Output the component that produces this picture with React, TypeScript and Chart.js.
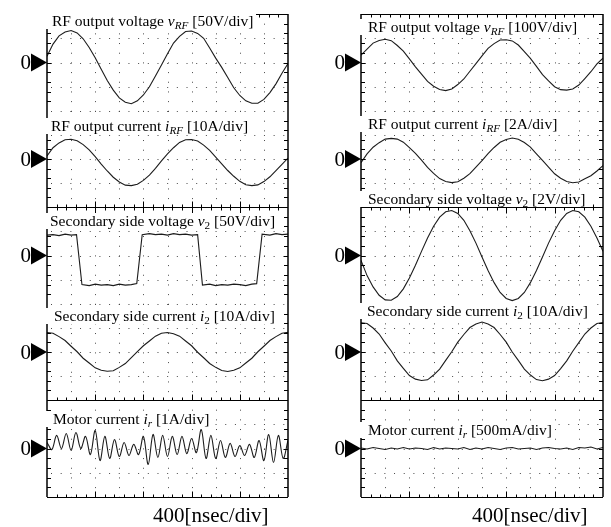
import React, { useEffect, useRef } from "react";
import { Chart, registerables } from "chart.js";

Chart.register(...registerables);

// ---------- data (time axis in ns, 400 ns/div, 10 div) ----------
const TIME_NS = [0,100,200,300,400,500,600,700,800,900,1000,1100,1200,1300,1400,1500,1600,1700,1800,1900,2000,2100,2200,2300,2400,2500,2600,2700,2800,2900,3000,3100,3200,3300,3400,3500,3600,3700,3800,3900,4000];
const TIME_IR_NS = [0,80,160,240,320,400,480,560,640,720,800,880,960,1040,1120,1200,1280,1360,1440,1520,1600,1680,1760,1840,1920,2000,2080,2160,2240,2320,2400,2480,2560,2640,2720,2800,2880,2960,3040,3120,3200,3280,3360,3440,3520,3600,3680,3760,3840,3920,4000];
const TIME_V2_LEFT_NS = [0,100,200,300,400,490,580,700,800,900,1000,1100,1200,1300,1400,1490,1580,1700,1800,1900,2000,2100,2200,2300,2400,2500,2580,2700,2800,2900,3000,3100,3200,3300,3400,3480,3570,3700,3800,3900,4000];

// left column (V / A)
const V_RF_LEFT = [13,38,55,63,66,61,49,31,10,-14,-37,-57,-73,-82,-85,-79,-67,-50,-28,-5,18,40,54,64,65,60,50,30,9,-10,-31,-52,-68,-79,-84,-84,-76,-62,-44,-22,-2];
const I_RF_LEFT = [1.3,4.7,6.7,8.0,8.2,7.6,6.0,3.8,1.0,-2.1,-5.0,-7.6,-9.6,-10.9,-11.1,-10.5,-8.9,-6.7,-3.9,-0.8,2.1,4.7,6.9,8.0,8.1,7.5,5.8,3.6,0.8,-2.0,-4.8,-7.2,-9.3,-10.7,-11.1,-10.8,-9.4,-7.4,-4.8,-2.2,0.4];
const V2_LEFT = [42,43,41,44,42,43,-60,-62,-59,-61,-60,-62,-59,-61,-60,-58,43,45,43,44,42,45,43,44,42,43,-61,-59,-62,-60,-61,-59,-60,-62,-59,-58,44,42,45,43,44];
const I2_LEFT = [8.1,7.8,6.4,4.8,2.4,0.1,-2.6,-4.6,-6.6,-7.6,-8.0,-7.8,-6.4,-4.8,-2.3,0.2,2.6,4.6,6.6,7.8,8.1,7.6,6.6,4.6,2.6,-0.1,-2.4,-4.8,-6.4,-7.7,-8.1,-7.6,-6.6,-4.6,-2.6,0.1,2.4,4.8,6.4,7.8,8.2];
const IR_LEFT = [0.25,-0.04,0.54,0.0,0.62,-0.08,0.66,0.0,0.50,-0.25,0.74,-0.50,0.50,-0.41,0.37,-0.33,0.25,-0.29,0.17,-0.25,0.50,-0.66,0.58,-0.37,0.54,-0.33,0.50,-0.25,0.50,-0.21,0.41,-0.17,0.78,-0.41,0.54,-0.41,0.33,-0.37,0.21,-0.33,0.12,-0.29,0.17,-0.37,0.33,-0.50,0.58,-0.58,0.54,-0.41,0.33];

// right column (V / A)
const V_RF_RIGHT = [30,55,80,91,96,90,70,47,15,-18,-48,-78,-98,-111,-116,-109,-91,-68,-36,-5,27,58,78,93,94,89,72,45,17,-16,-50,-76,-100,-112,-114,-109,-93,-66,-38,-6,18];
const I_RF_RIGHT = [-0.30,0.42,0.98,1.36,1.66,1.72,1.66,1.40,0.95,0.47,-0.10,-0.70,-1.20,-1.63,-1.88,-1.97,-1.90,-1.60,-1.22,-0.68,-0.14,0.44,0.96,1.39,1.63,1.75,1.64,1.37,0.99,0.43,-0.11,-0.67,-1.23,-1.60,-1.88,-1.98,-1.91,-1.64,-1.40,-1.00,-0.55];
const V2_RIGHT = [-0.40,-1.66,-2.59,-3.28,-3.66,-3.69,-3.38,-2.75,-1.86,-0.80,0.34,1.45,2.42,3.16,3.61,3.71,3.47,2.90,2.05,1.02,-0.12,-1.24,-2.24,-3.05,-3.54,-3.72,-3.54,-3.05,-2.24,-1.24,-0.12,1.02,2.05,2.90,3.47,3.71,3.61,3.16,2.42,1.45,0.34];
const I2_RIGHT = [12.2,11.9,10.0,7.5,3.8,0.4,-3.7,-6.8,-9.8,-11.3,-11.9,-11.6,-9.6,-7.1,-3.5,0.1,4.1,7.3,10.2,11.7,12.5,11.7,10.2,7.3,4.1,0.0,-3.5,-7.1,-9.6,-11.5,-12.0,-11.3,-9.8,-6.9,-3.7,0.3,3.9,7.5,10.0,11.9,12.3];
const IR_RIGHT = [0.01,-0.01,0.02,0,-0.02,0.01,-0.01,0.02,-0.01,0.01,0,-0.02,0.02,-0.01,0.01,0,-0.01,0.02,-0.02,0.01,-0.01,0.02,0,-0.02,0.01,0.02,-0.01,0,0.01,-0.02,0.01,0.02,0,-0.01,0.01,-0.02,0.02,0.01,0.03,-0.01,0.02];

// vertical sensitivity (unit per div)
const UNITS_LEFT = [50, 10, 50, 10, 1];
const UNITS_RIGHT = [100, 2, 2, 10, 0.5];
const TIME_PER_DIV = 400;
const X_LABEL = "400[nsec/div]";

const SERIF = '"Liberation Serif", "Times New Roman", Times, serif';

// ---------- layout ----------
const ROW_TOPS = [14, 111, 207, 304, 400, 497];
const COLS = [
  { canvasLeft: 0, plotLeft: 47, plotRight: 288 },
  { canvasLeft: 305, plotLeft: 361, plotRight: 603 },
];
const CANVAS_W = 306;
const PAD_V = 9;

type RowKind = "none" | "down" | "up" | "cross";

const scopePlugin = {
  id: "scope",
  beforeDatasetsDraw(chart: any, _args: any, opts: any) {
    const { ctx, chartArea: a, scales } = chart;
    const xs = scales.x;
    const ys = scales.y;
    const u = opts.unit;
    ctx.save();
    ctx.strokeStyle = "#4a4a4a";
    ctx.lineWidth = 1;
    ctx.setLineDash([1, 8.68]);
    for (let d = 1; d < 10; d++) {
      const x = Math.round(xs.getPixelForValue(d * TIME_PER_DIV)) + 0.5;
      ctx.beginPath();
      ctx.moveTo(x, a.top);
      ctx.lineTo(x, a.bottom);
      ctx.stroke();
    }
    const rows = [-1, 0, 1];
    if (opts.top === "none") rows.push(2);
    for (const d of rows) {
      const y = Math.round(ys.getPixelForValue(d * u)) + 0.5;
      ctx.beginPath();
      ctx.moveTo(a.left + 4, y);
      ctx.lineTo(a.right, y);
      ctx.stroke();
    }
    ctx.restore();
  },
  afterDatasetsDraw(chart: any, _args: any, opts: any) {
    const { ctx, chartArea: a, scales } = chart;
    const ys = scales.y;
    const y0 = ys.getPixelForValue(0);
    const h = a.bottom - a.top;
    ctx.save();
    ctx.setLineDash([]);
    ctx.strokeStyle = "#000";
    // side borders
    ctx.lineWidth = 1.5;
    ctx.beginPath();
    ctx.moveTo(a.left, a.top);
    ctx.lineTo(a.left, a.bottom);
    ctx.moveTo(a.right, a.top);
    ctx.lineTo(a.right, a.bottom);
    ctx.stroke();
    // edge ticks
    ctx.lineWidth = 1;
    ctx.beginPath();
    for (let n = -4; n <= 4; n++) {
      const y = Math.round(y0 + (n * h) / 10) + 0.5;
      ctx.moveTo(a.left, y);
      ctx.lineTo(a.left + 4, y);
      ctx.moveTo(a.right - 4, y);
      ctx.lineTo(a.right, y);
    }
    ctx.stroke();
    // tick rows
    const drawRow = (yy: number, kind: RowKind) => {
      if (kind === "none") return;
      const y = Math.round(yy) + 0.5;
      ctx.lineWidth = 1.2;
      ctx.beginPath();
      ctx.moveTo(a.left, y);
      ctx.lineTo(a.right, y);
      ctx.stroke();
      ctx.lineWidth = 1;
      ctx.beginPath();
      for (let i = 1; i < 25; i++) {
        const x = Math.round(a.left + (i * (a.right - a.left)) / 25) + 0.5;
        const len = i % 5 === 0 ? 6 : 3;
        const up = kind === "up" || kind === "cross" ? len : 0;
        const dn = kind === "down" || kind === "cross" ? len : 0;
        ctx.moveTo(x, y - up);
        ctx.lineTo(x, y + dn);
      }
      ctx.stroke();
    };
    drawRow(a.top, opts.top);
    drawRow(a.bottom, opts.bottom);
    // zero marker
    ctx.fillStyle = "#000";
    ctx.beginPath();
    ctx.moveTo(a.left, y0);
    ctx.lineTo(a.left - 16, y0 - 9);
    ctx.lineTo(a.left - 16, y0 + 9);
    ctx.closePath();
    ctx.fill();
    ctx.font = `21px ${SERIF}`;
    ctx.textAlign = "right";
    ctx.textBaseline = "middle";
    ctx.fillText("0", a.left - 16, y0 + 1);
    ctx.restore();
  },
};

type PanelCfg = {
  col: number;
  row: number;
  times: number[];
  values: number[];
  unit: number;
  top: RowKind;
  bottom: RowKind;
  smooth: number;
};

const TOP_KINDS: RowKind[] = ["down", "none", "cross", "none", "up"];
const BOTTOM_KINDS: RowKind[] = ["none", "none", "none", "none", "up"];

const LEFT_SERIES = [
  { times: TIME_NS, values: V_RF_LEFT, smooth: 0 },
  { times: TIME_NS, values: I_RF_LEFT, smooth: 0 },
  { times: TIME_V2_LEFT_NS, values: V2_LEFT, smooth: 0 },
  { times: TIME_NS, values: I2_LEFT, smooth: 0 },
  { times: TIME_IR_NS, values: IR_LEFT, smooth: 0.35 },
];
const RIGHT_SERIES = [
  { times: TIME_NS, values: V_RF_RIGHT, smooth: 0 },
  { times: TIME_NS, values: I_RF_RIGHT, smooth: 0 },
  { times: TIME_NS, values: V2_RIGHT, smooth: 0 },
  { times: TIME_NS, values: I2_RIGHT, smooth: 0 },
  { times: TIME_NS, values: IR_RIGHT, smooth: 0 },
];

const PANELS: PanelCfg[] = [
  ...LEFT_SERIES.map((s, i) => ({ col: 0, row: i, ...s, unit: UNITS_LEFT[i], top: TOP_KINDS[i], bottom: BOTTOM_KINDS[i] })),
  ...RIGHT_SERIES.map((s, i) => ({ col: 1, row: i, ...s, unit: UNITS_RIGHT[i], top: TOP_KINDS[i], bottom: BOTTOM_KINDS[i] })),
];

function Panel({ cfg }: { cfg: PanelCfg }) {
  const ref = useRef<HTMLCanvasElement | null>(null);
  const col = COLS[cfg.col];
  const top = ROW_TOPS[cfg.row];
  const h = ROW_TOPS[cfg.row + 1] - top;
  useEffect(() => {
    if (!ref.current) return;
    const chart = new Chart(ref.current, {
      type: "line",
      data: {
        datasets: [
          {
            data: cfg.times.map((t, i) => ({ x: t, y: cfg.values[i] })),
            borderColor: "#1c1c1c",
            borderWidth: 1.1,
            pointRadius: 0,
            tension: cfg.smooth,
            fill: false,
          },
        ],
      },
      options: {
        responsive: false,
        animation: false,
        events: [],
        layout: {
          padding: {
            left: col.plotLeft - col.canvasLeft,
            right: col.canvasLeft + CANVAS_W - col.plotRight,
            top: PAD_V,
            bottom: PAD_V,
          },
        },
        scales: {
          x: { type: "linear", min: 0, max: 10 * TIME_PER_DIV, display: false },
          y: { type: "linear", min: -2 * cfg.unit, max: 2 * cfg.unit, display: false },
        },
        plugins: {
          legend: { display: false },
          tooltip: { enabled: false },
          scope: { unit: cfg.unit, top: cfg.top, bottom: cfg.bottom },
        } as any,
      },
      plugins: [scopePlugin as any],
    });
    return () => chart.destroy();
  }, []);
  return (
    <canvas
      ref={ref}
      width={CANVAS_W}
      height={h + 2 * PAD_V}
      style={{ position: "absolute", left: col.canvasLeft, top: top - PAD_V, width: CANVAS_W, height: h + 2 * PAD_V }}
    />
  );
}

const subStyle: React.CSSProperties = { fontSize: "0.72em", verticalAlign: "-0.25em", lineHeight: 0 };

const LABELS: { col: number; x: number; cy: number; node: React.ReactNode }[] = [
  { col: 0, x: 52, cy: 21, node: <>RF output voltage <i>v</i><sub style={subStyle}><i>RF</i></sub> [50V/div]</> },
  { col: 0, x: 51, cy: 126, node: <>RF output current <i>i</i><sub style={subStyle}><i>RF</i></sub> [10A/div]</> },
  { col: 0, x: 50, cy: 221, node: <>Secondary side voltage <i>v</i><sub style={subStyle}>2</sub> [50V/div]</> },
  { col: 0, x: 54, cy: 316, node: <>Secondary side current <i>i</i><sub style={subStyle}>2</sub> [10A/div]</> },
  { col: 0, x: 53, cy: 419, node: <>Motor current <i>i</i><sub style={subStyle}><i>r</i></sub> [1A/div]</> },
  { col: 1, x: 368, cy: 27, node: <>RF output voltage <i>v</i><sub style={subStyle}><i>RF</i></sub> [100V/div]</> },
  { col: 1, x: 368, cy: 124, node: <>RF output current <i>i</i><sub style={subStyle}><i>RF</i></sub> [2A/div]</> },
  { col: 1, x: 368, cy: 199, node: <>Secondary side voltage <i>v</i><sub style={subStyle}>2</sub> [2V/div]</> },
  { col: 1, x: 367, cy: 311, node: <>Secondary side current <i>i</i><sub style={subStyle}>2</sub> [10A/div]</> },
  { col: 1, x: 368, cy: 430, node: <>Motor current <i>i</i><sub style={subStyle}><i>r</i></sub> [500mA/div]</> },
];

export default function App() {
  return (
    <div style={{ position: "fixed", left: 0, top: 0, width: 611, height: 527, background: "#fff", overflow: "hidden", fontFamily: SERIF, color: "#000" }}>
      {PANELS.map((p, i) => (
        <Panel key={i} cfg={p} />
      ))}
      {LABELS.map((l, i) => {
        const boxLeft = COLS[l.col].plotLeft - 2;
        return (
          <div
            key={i}
            style={{
              position: "absolute",
              left: boxLeft,
              top: l.cy - 8,
              height: 16,
              lineHeight: "16px",
              fontSize: 15.5,
              paddingLeft: l.x - boxLeft,
              paddingRight: 3,
              background: "#fff",
              whiteSpace: "nowrap",
            }}
          >
            {l.node}
          </div>
        );
      })}
      <div style={{ position: "absolute", left: 153, top: 504, fontSize: 21, lineHeight: "22px", whiteSpace: "nowrap" }}>{X_LABEL}</div>
      <div style={{ position: "absolute", left: 472, top: 504, fontSize: 21, lineHeight: "22px", whiteSpace: "nowrap" }}>{X_LABEL}</div>
    </div>
  );
}
